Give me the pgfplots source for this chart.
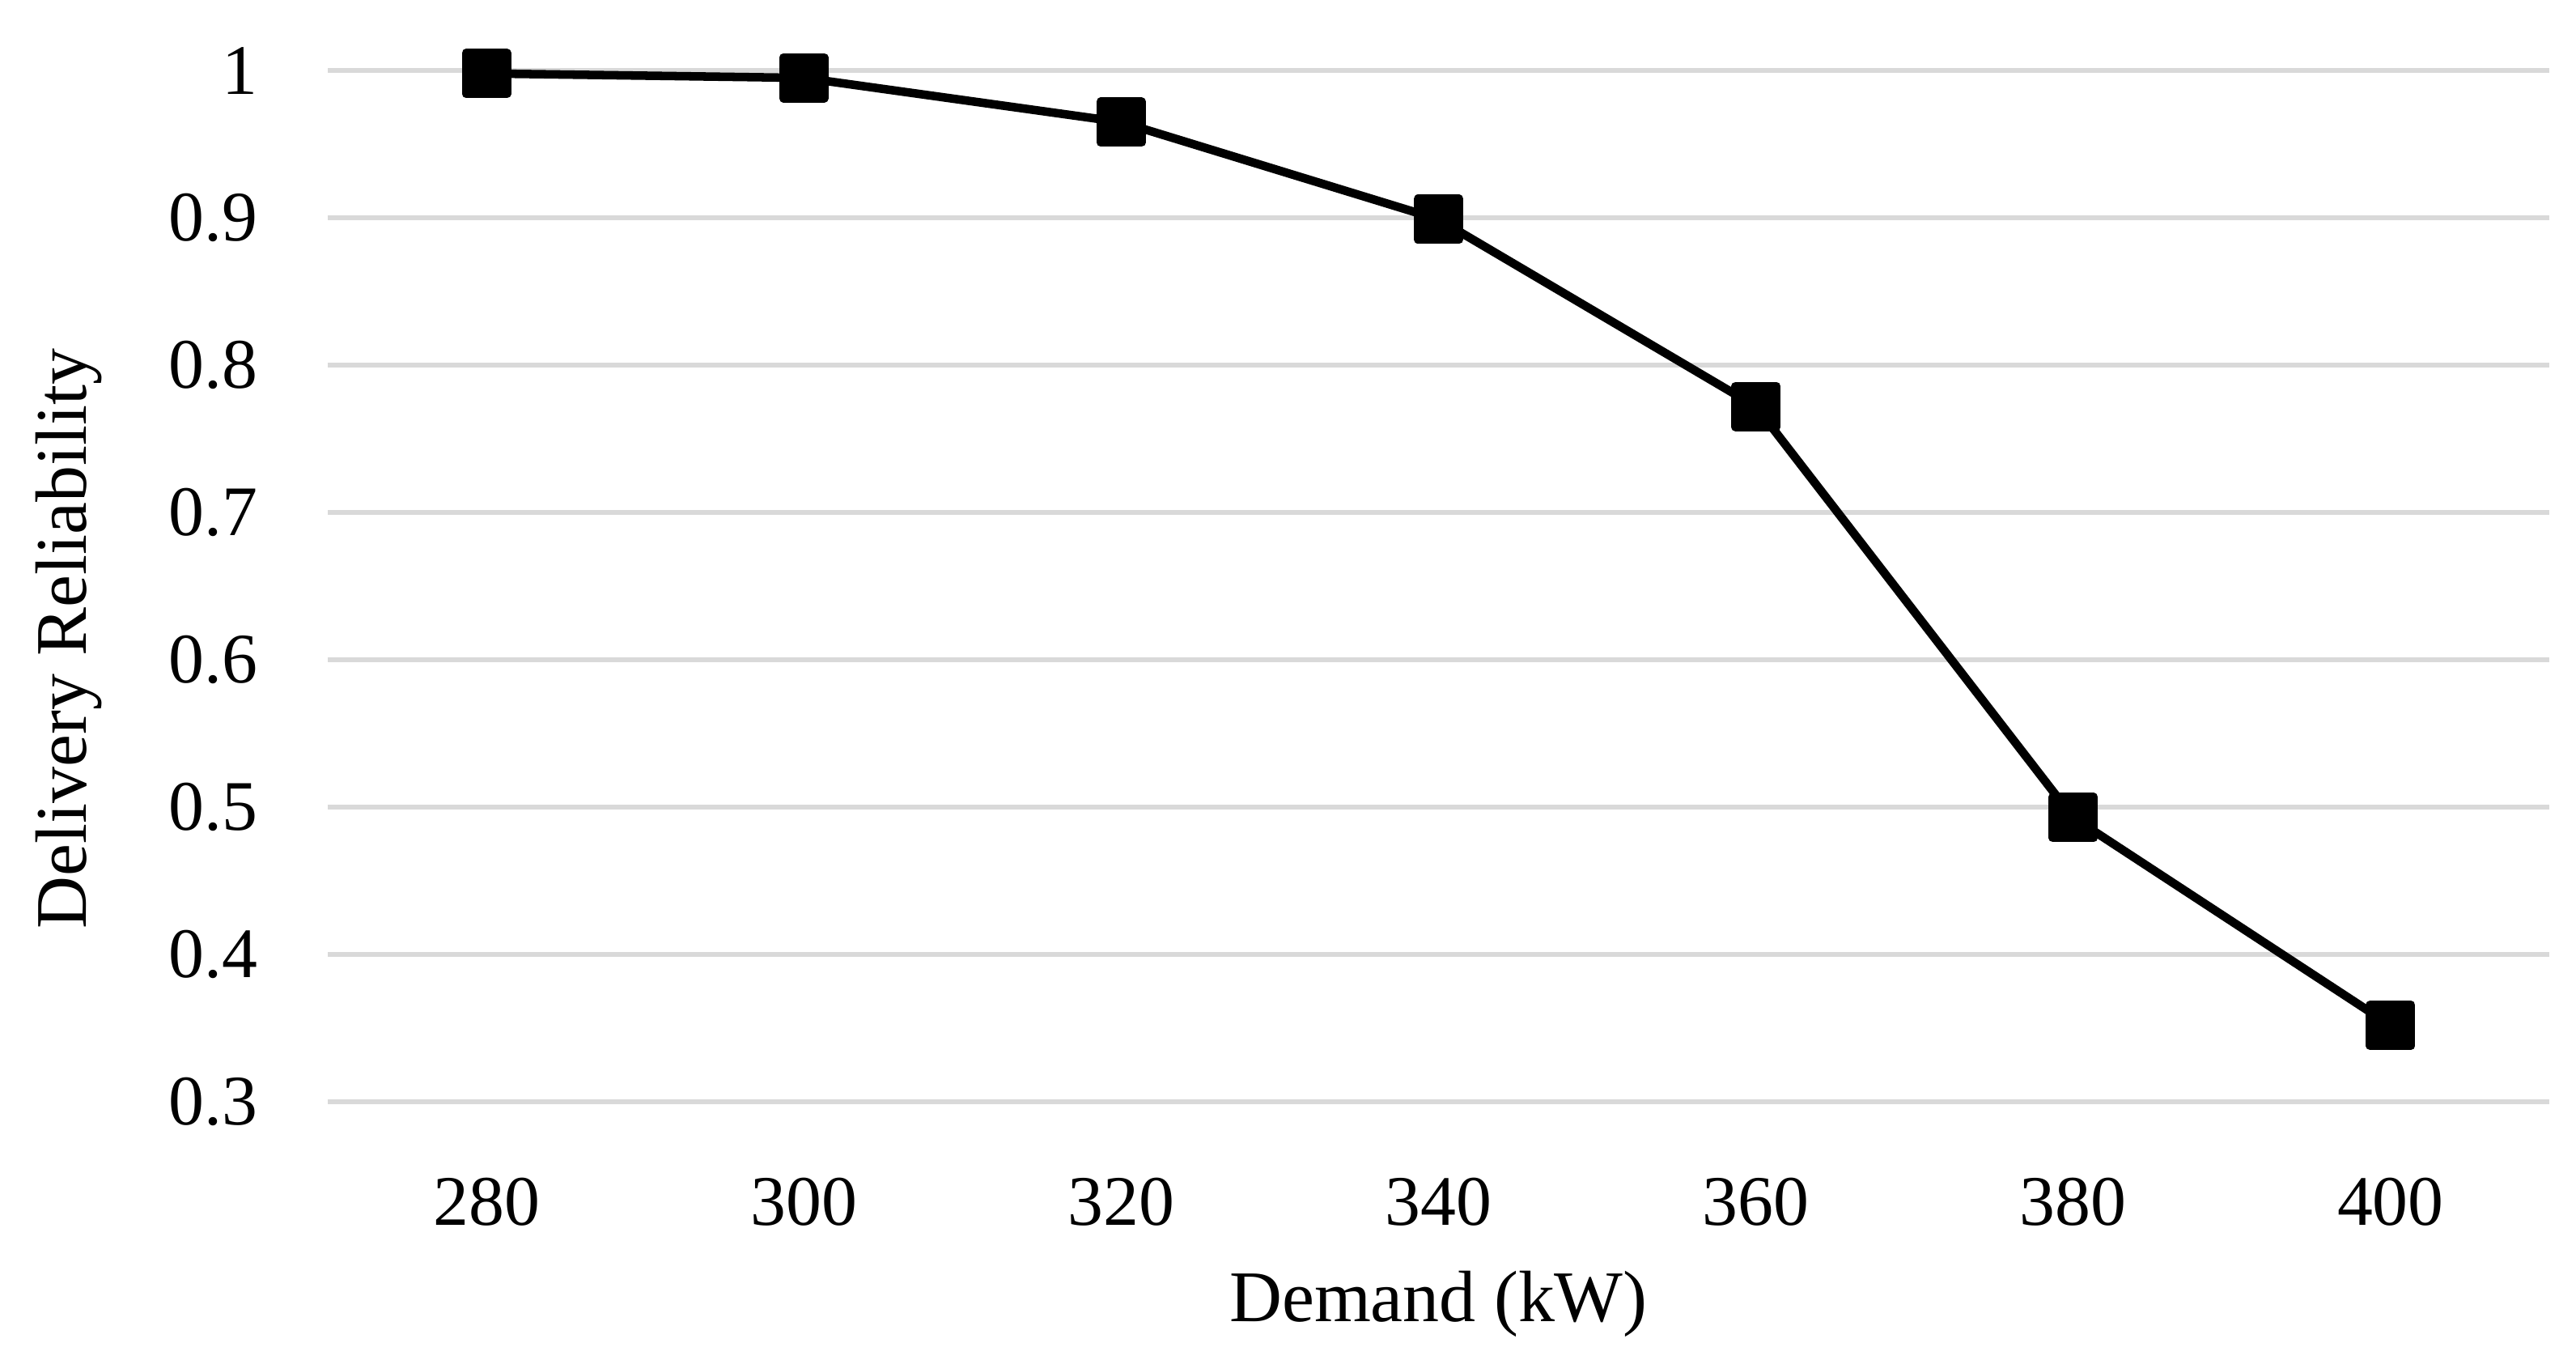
\documentclass[border=0pt]{standalone}
\usepackage{fontspec}
\setmainfont{Liberation Serif}
\usepackage{pgfplots}
\pgfplotsset{compat=1.18}
\definecolor{gridgray}{HTML}{D9D9D9}
\begin{document}
\fontsize{12.5}{15}\selectfont
\begin{tikzpicture}
\useasboundingbox (-57.7pt,-45.3pt) rectangle (395.7pt,193.9pt);
\begin{axis}[
  scale only axis,
  width=391pt, height=181.5pt,
  xmin=-0.5, xmax=6.5,
  ymin=0.3, ymax=1.0,
  xtick={0,1,2,3,4,5,6},
  xticklabels={280,300,320,340,360,380,400},
  ytick={0.3,0.4,0.5,0.6,0.7,0.8,0.9,1},
  yticklabels={0.3,0.4,0.5,0.6,0.7,0.8,0.9,1},
  ymajorgrids,
  grid style={gridgray, line width=0.9pt},
  axis line style={draw=none},
  major tick length=0pt,
  tick label style={font=\fontsize{12.5}{15}\selectfont},
  yticklabel style={anchor=east, xshift=-8pt},
  xticklabel style={yshift=-9pt},
  xlabel={Demand (kW)},
  ylabel={Delivery Reliability},
  label style={font=\fontsize{12.8}{15}\selectfont},
  xlabel style={at={(axis description cs:0.5,-0.1956)}, anchor=center},
  ylabel style={at={(axis description cs:-0.1166,0.449)}, anchor=center},
  clip=false,
]
\addplot[black, line width=1.5pt, mark=square*, mark size=3.6pt,
  mark options={fill=black, line join=round}]
  coordinates {(0,0.998) (1,0.995) (2,0.965) (3,0.899) (4,0.772) (5,0.493) (6,0.352)};
\end{axis}
\end{tikzpicture}
\end{document}
